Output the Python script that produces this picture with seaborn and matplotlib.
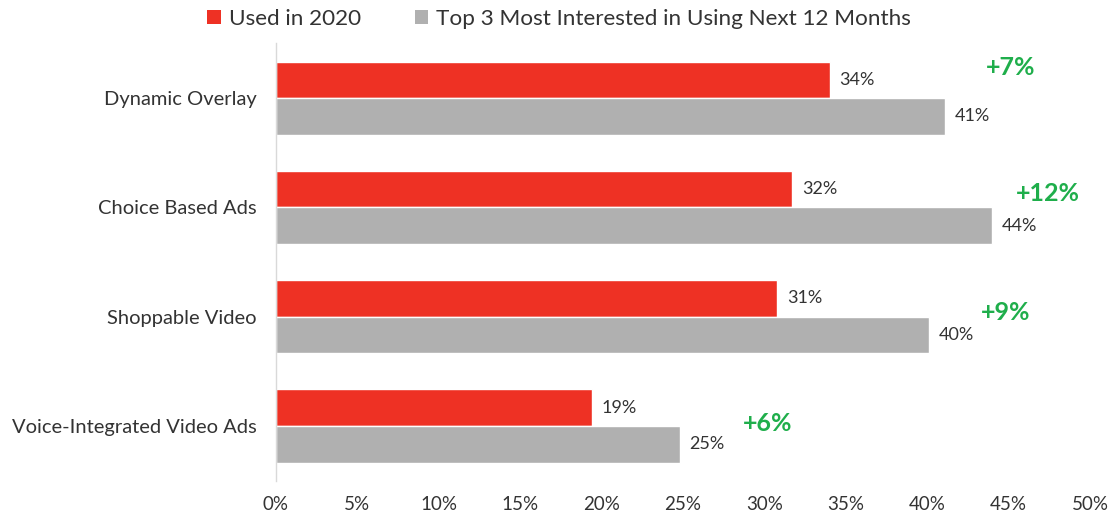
import matplotlib
matplotlib.use("Agg")
import matplotlib.pyplot as plt
import seaborn as sns
import pandas as pd
from matplotlib.patches import Patch

categories = ["Dynamic Overlay", "Choice Based Ads", "Shoppable Video", "Voice-Integrated Video Ads"]
series_names = ["Used in 2020", "Top 3 Most Interested in Using Next 12 Months"]
used_2020 = [34.0, 31.7, 30.8, 19.4]
next_12 = [41.1, 44.0, 40.1, 24.8]
diff_labels = ["+7%", "+12%", "+9%", "+6%"]
diff_x = [45.1, 47.4, 44.8, 30.2]
diff_dy = [-0.28, -0.13, -0.04, -0.02]
xticks = [0, 5, 10, 15, 20, 25, 30, 35, 40, 45, 50]

colors = ["#EE3124", "#B0B0B0"]

sns.set_theme(style="white")
plt.rcParams["font.family"] = ["Lato", "DejaVu Sans"]

df = pd.DataFrame({
    "category": categories * 2,
    "value": used_2020 + next_12,
    "series": [series_names[0]] * 4 + [series_names[1]] * 4,
})

fig = plt.figure(figsize=(11.12, 5.14), dpi=100)
ax = fig.add_axes([0.2482, 0.065, 0.9802 - 0.2482, 0.9154 - 0.065])

sns.barplot(data=df, y="category", x="value", hue="series", orient="h",
            palette=colors, width=0.67, ax=ax, legend=False, saturation=1)

for container in ax.containers:
    vals = [b.get_width() for b in container]
    ax.bar_label(container, labels=[f"{round(v)}%" for v in vals], padding=7,
                 fontsize=13, color="#333333")

for i, (lab, x, dy) in enumerate(zip(diff_labels, diff_x, diff_dy)):
    ax.text(x, i + dy, lab, color="#1FAE4B", fontsize=18, fontweight="bold",
            ha="center", va="center")

ax.set_xlim(0, 50)
ax.set_ylim(3.5, -0.5)
ax.set_xticks(xticks)
ax.set_xticklabels([f"{t}%" for t in xticks], fontsize=13.5, color="#333333")
ax.tick_params(axis="x", length=0, pad=11)
ax.tick_params(axis="y", length=0, pad=14, labelsize=14.5, labelcolor="#333333")
ax.set_xlabel("")
ax.set_ylabel("")
for s in ["top", "right", "bottom"]:
    ax.spines[s].set_visible(False)
ax.spines["left"].set_color("#D9D9D9")
ax.spines["left"].set_linewidth(1)

handles = [Patch(facecolor=c, edgecolor="none") for c in colors]
fig.legend(handles, series_names, loc="center", bbox_to_anchor=(0.503, 0.963),
           ncol=2, frameon=False, fontsize=16.2, handlelength=0.6, handleheight=0.6,
           handletextpad=0.35, columnspacing=2.4, labelcolor="#333333")

fig.savefig("out.png", dpi=100)
